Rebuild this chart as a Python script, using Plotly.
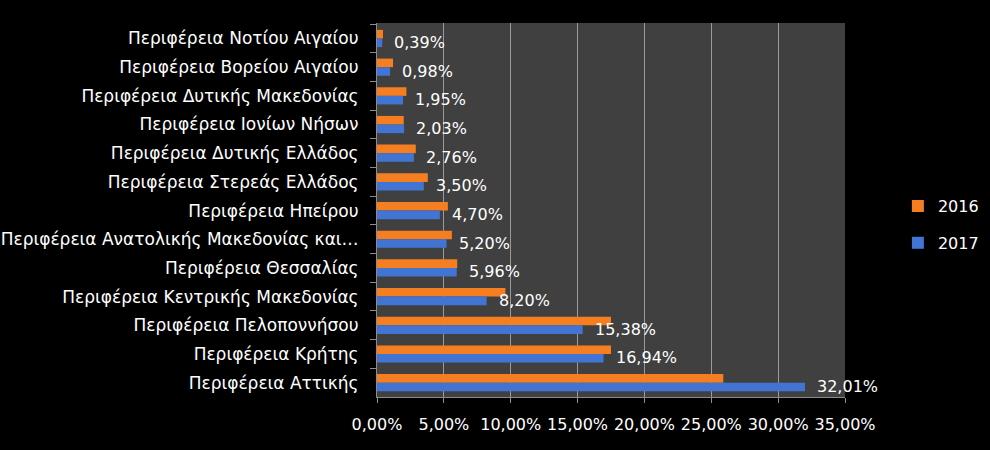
import plotly.graph_objects as go

# Categories listed top -> bottom (the y axis is reversed)
regions = ['Περιφέρεια Νοτίου Αιγαίου',
           'Περιφέρεια Βορείου Αιγαίου',
           'Περιφέρεια Δυτικής Μακεδονίας',
           'Περιφέρεια Ιονίων Νήσων',
           'Περιφέρεια Δυτικής Ελλάδος',
           'Περιφέρεια Στερεάς Ελλάδος',
           'Περιφέρεια Ηπείρου',
           'Περιφέρεια Ανατολικής Μακεδονίας και…',
           'Περιφέρεια Θεσσαλίας',
           'Περιφέρεια Κεντρικής Μακεδονίας',
           'Περιφέρεια Πελοποννήσου',
           'Περιφέρεια Κρήτης',
           'Περιφέρεια Αττικής']

share_2016 = [0.45, 1.2, 2.2, 2.0, 2.9, 3.8, 5.3, 5.6, 6.0, 9.6, 17.5, 17.5, 25.9]
share_2017 = [0.39, 0.98, 1.95, 2.03, 2.76, 3.50, 4.70, 5.20, 5.96, 8.20, 15.38, 16.94, 32.01]

labels_2017 = ['{:.2f}%'.format(v).replace('.', ',') for v in share_2017]

font_name = 'DejaVu Sans'

data = []
data.append(go.Bar(y=regions, x=[v / 100 for v in share_2016], name='2016',
                   orientation='h', marker={'color': '#F57F20', 'line': {'width': 0}},
                   legendgroup='2016'))
data.append(go.Bar(y=regions, x=[v / 100 for v in share_2017], name='2017',
                   orientation='h', marker={'color': '#4275D3', 'line': {'width': 0}},
                   legendgroup='2017'))

# value labels for 2017, placed just past the end of each blue bar
annotations = []
for reg, v, lab in zip(regions, share_2017, labels_2017):
    annotations.append({'x': v / 100, 'y': reg, 'xref': 'x', 'yref': 'y',
                        'text': lab, 'showarrow': False,
                        'xanchor': 'left', 'yanchor': 'middle',
                        'xshift': 10, 'yshift': -4,
                        'font': {'size': 16, 'color': 'white', 'family': font_name}})

layout = {'paper_bgcolor': 'black', 'plot_bgcolor': '#404040',
          'width': 990, 'height': 450,
          'margin': {'l': 377, 'r': 145, 't': 23, 'b': 53, 'autoexpand': False},
          'font': {'family': font_name, 'color': 'white', 'size': 16},
          'separators': ',.',
          'barmode': 'group', 'bargap': 0.4, 'bargroupgap': 0,
          'showlegend': True,
          'legend': {'x': 1.113, 'y': 0.461, 'xanchor': 'left', 'yanchor': 'middle',
                     'traceorder': 'grouped', 'font': {'size': 16, 'color': 'white'},
                     'itemwidth': 30, 'tracegroupgap': 13, 'bgcolor': 'rgba(0,0,0,0)'},
          'xaxis': {'range': [0, 0.35], 'dtick': 0.05, 'tickformat': '.2%',
                    'showgrid': True, 'gridcolor': '#9A9A9A', 'gridwidth': 1,
                    'showline': True, 'linecolor': '#8C8C8C', 'zeroline': False,
                    'ticks': 'outside', 'ticklen': 5, 'tickcolor': '#8C8C8C',
                    'ticklabelstandoff': 8, 'automargin': False,
                    'tickfont': {'size': 16, 'color': 'white'}},
          'yaxis': {'type': 'category', 'autorange': 'reversed',
                    'showgrid': False, 'showline': True,
                    'linecolor': '#8C8C8C', 'ticks': 'outside', 'ticklen': 6,
                    'tickcolor': '#8C8C8C', 'tickson': 'boundaries',
                    'ticklabelstandoff': 14, 'automargin': False,
                    'tickfont': {'size': 17, 'color': 'white'}},
          'annotations': annotations,
          'hovermode': False}

fig = go.Figure({'data': data, 'layout': layout})
fig.write_html('out.html', config={'displayModeBar': False},
               post_script="document.body.style.margin='0';document.body.style.background='black';")
